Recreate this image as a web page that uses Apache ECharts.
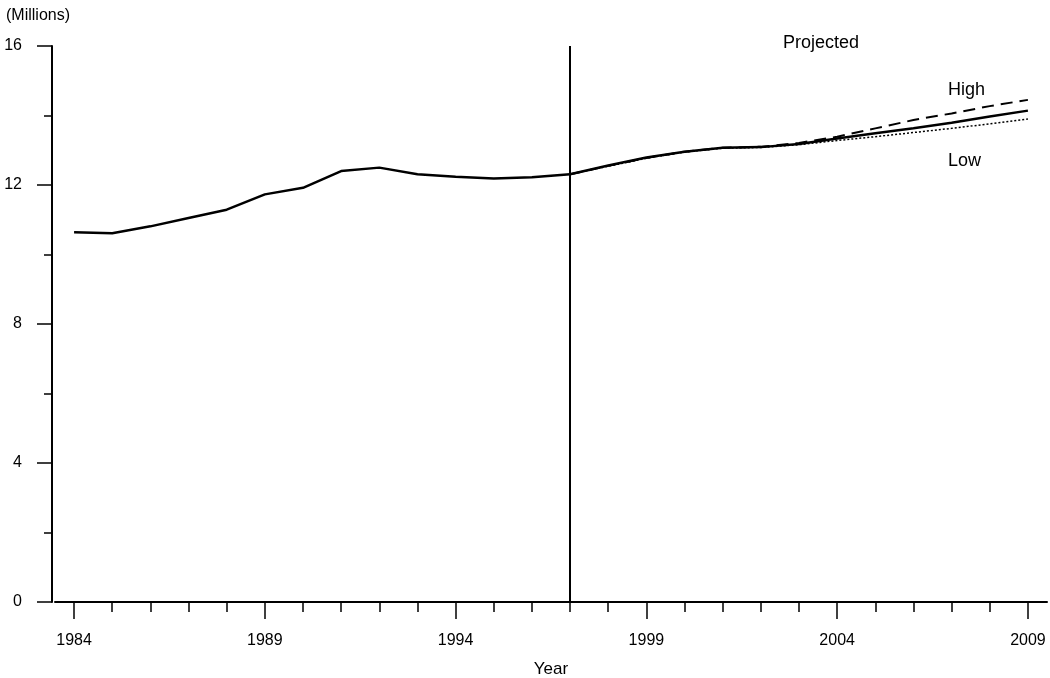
<!DOCTYPE html>
<html>
<head>
	<meta charset="utf-8">
	<title></title>
	<script src="https://cdn.jsdelivr.net/npm/echarts@6/dist/echarts.min.js"></script>
	<style>
		body { margin: 0; background: #fff; }
	</style>
</head>
<body>
	<div id="main" style="width: 1050px;height: 678px;"></div>
	<script>
		// years on the x axis
		var years = ['1984','1985','1986','1987','1988','1989','1990','1991','1992','1993','1994','1995','1996',
			'1997','1998','1999','2000','2001','2002','2003','2004','2005','2006','2007','2008','2009'];
		// actual values 1984-1997 (millions)
		var actual = [10.64, 10.61, 10.81, 11.05, 11.29, 11.73, 11.92, 12.40, 12.50, 12.31, 12.24, 12.19, 12.22, 12.31];
		// projections 1997-2009
		var middle = [12.31, 12.56, 12.79, 12.96, 13.07, 13.09, 13.18, 13.34, 13.49, 13.63, 13.79, 13.97, 14.14];
		var high   = [12.31, 12.55, 12.78, 12.96, 13.07, 13.10, 13.21, 13.39, 13.63, 13.87, 14.06, 14.27, 14.45];
		var low    = [12.31, 12.54, 12.77, 12.95, 13.06, 13.08, 13.16, 13.28, 13.39, 13.51, 13.63, 13.76, 13.90];
		var yTicks = [0, 4, 8, 12, 16];

		// pad the projections with nulls so they start at 1997
		function pad(arr) {
			var out = [];
			for (var i = 0; i < years.length - arr.length; i++) out.push(null);
			return out.concat(arr);
		}

		var font = 'Liberation Sans, Arial, sans-serif';
		var myCharts = echarts.init(document.getElementById('main'));
		var option = {
			animation: false,
			backgroundColor: '#fff',
			title: {
				text: '(Millions)',
				left: 1, top: 3,
				textStyle: { fontFamily: font, fontSize: 16, fontWeight: 'normal', color: '#000' }
			},
			grid: { left: 55, right: 3, top: 46, bottom: 76, outerBoundsMode: 'none', containLabel: false },
			xAxis: [{
				type: 'category',
				position: 'bottom',
				data: years,
				boundaryGap: true,
				axisLine: { show: true, onZero: false, lineStyle: { color: '#000', width: 2 } },
				axisTick: { show: true, alignWithLabel: true, interval: 0, length: 10, lineStyle: { color: '#000', width: 1.5 } },
				axisLabel: { show: false }
			}, {
				type: 'category',
				position: 'bottom',
				data: years,
				boundaryGap: true,
				axisLine: { show: false, onZero: false },
				axisTick: { show: true, alignWithLabel: true, interval: 4, length: 17, lineStyle: { color: '#000', width: 1.5 } },
				axisLabel: { interval: 4, margin: 31, color: '#000', fontFamily: font, fontSize: 16 },
				name: 'Year',
				nameLocation: 'middle',
				nameGap: 59,
				nameTextStyle: { color: '#000', fontFamily: font, fontSize: 17 }
			}],
			yAxis: {
				type: 'value',
				offset: 3,
				min: yTicks[0], max: yTicks[yTicks.length - 1], interval: 4,
				axisLine: { show: true, lineStyle: { color: '#000', width: 2 } },
				axisTick: { show: true, length: 15, lineStyle: { color: '#000', width: 1.5 } },
				minorTick: { show: true, splitNumber: 2, length: 8, lineStyle: { color: '#000', width: 1.5 } },
				splitLine: { show: false },
				axisLabel: { margin: 30, color: '#000', fontFamily: font, fontSize: 16 }
			},
			series: [{
				name: 'Actual',
				type: 'line',
				data: actual,
				symbol: 'none',
				lineStyle: { color: '#000', width: 2.5 },
				markLine: {
					silent: true,
					symbol: 'none',
					label: { show: false },
					lineStyle: { color: '#000', width: 2, type: 'solid' },
					data: [{ xAxis: '1997' }]
				}
			}, {
				name: 'Middle',
				type: 'line',
				data: pad(middle),
				symbol: 'none',
				lineStyle: { color: '#000', width: 2.5 }
			}, {
				name: 'High',
				type: 'line',
				data: pad(high),
				symbol: 'none',
				lineStyle: { color: '#000', width: 2, type: [12, 7] }
			}, {
				name: 'Low',
				type: 'line',
				data: pad(low),
				symbol: 'none',
				lineStyle: { color: '#000', width: 1.5, type: [2, 2] }
			}],
			graphic: [
				{ type: 'text', x: 783, y: 43, style: { text: 'Projected', fill: '#000', font: '18px ' + font, verticalAlign: 'middle' } },
				{ type: 'text', x: 948, y: 90, style: { text: 'High', fill: '#000', font: '18px ' + font, verticalAlign: 'middle' } },
				{ type: 'text', x: 948, y: 161, style: { text: 'Low', fill: '#000', font: '18px ' + font, verticalAlign: 'middle' } }
			]
		};
		myCharts.setOption(option);
	</script>
</body>
</html>
